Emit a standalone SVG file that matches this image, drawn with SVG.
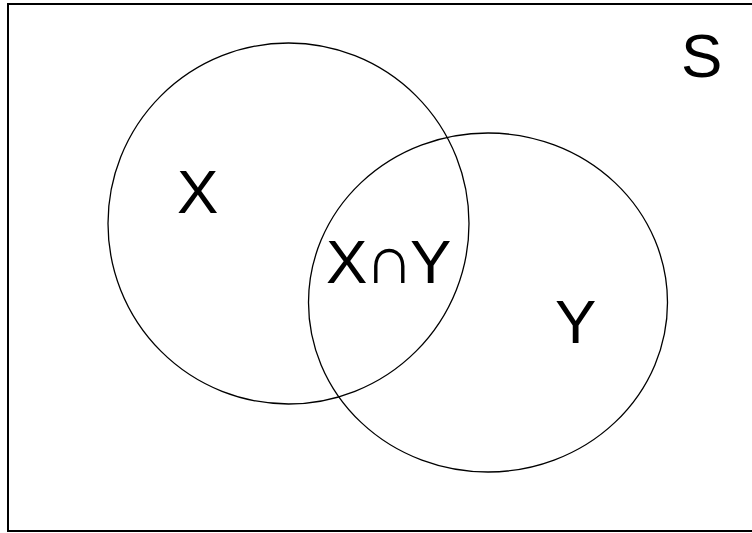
<svg xmlns="http://www.w3.org/2000/svg" width="752" height="533" viewBox="0 0 752 533">
<style>
.c{fill:none;stroke:#000;stroke-width:1.3}
.t{font-family:"Liberation Sans",Arial,sans-serif;font-size:62px;fill:#000}
.n{font-size:68px}
</style>
<rect width="752" height="533" fill="#fff"/>
<g id="S"><rect x="8" y="4" width="760" height="527" fill="none" stroke="#000" stroke-width="2"/><text class="t" x="681" y="77">S</text></g>
<g id="X"><ellipse class="c" cx="288.5" cy="223.5" rx="180.5" ry="180.5"/><text class="t" x="177" y="213">X</text></g>
<g id="Y"><ellipse class="c" cx="488" cy="302.5" rx="179.5" ry="169.5"/><text class="t" x="555" y="343">Y</text></g>
<g id="XY"><text class="t" y="283"><tspan x="326">X</tspan><tspan class="n" x="365">∩</tspan><tspan x="410">Y</tspan></text></g>
</svg>
